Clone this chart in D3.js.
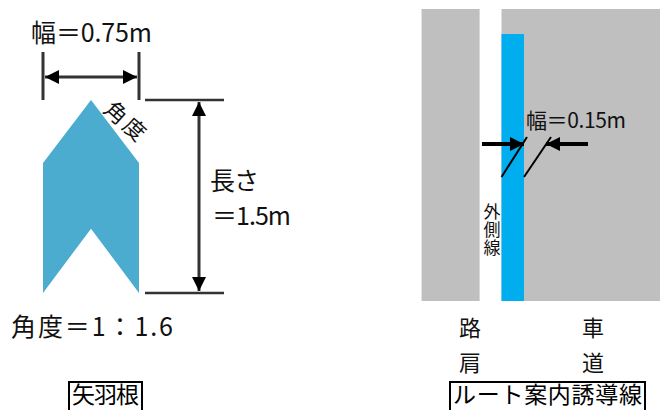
<!DOCTYPE html>
<html>
<head>
<meta charset="utf-8">
<script src="https://cdn.jsdelivr.net/npm/d3@7"></script>
<style>
body { margin: 0; background: #fff; }
text { font-family: "Liberation Sans Narrow", "Noto Sans CJK JP", sans-serif; fill: #111; }
</style>
</head>
<body>
<svg id="chart" width="660" height="410"></svg>
<script>
// 矢羽根 outline, metres from the apex (across, along)
var chevronAcross = [0.375, 0.75, 0.75, 0.375, 0, 0];
var chevronAlong = [0, 0.49, 1.5, 1.0, 1.5, 0.49];
var chevronWidth = 0.75;
var chevronLength = 1.5;

// ルート案内誘導線 bands, metres across the road from the left of the picture
var bandNames = ['shoulder', 'road', 'line'];
var bandStart = [0, 0.533, 0.533];
var bandEnd = [0.387, 1.593, 0.683];
var bandTop = [0, 0, 0.167];
var lineWidth = 0.15;

var labels = ['幅＝0.75m', '角度', '長さ', '＝1.5m', '角度＝1：1.6', '矢羽根', '幅＝0.15m', '路', '肩', '車', '道', 'ルート案内誘導線', '外側線'];

var svg = d3.select('#chart');

var defs = svg.append('defs');
defs.append('marker').attr('id', 'tip')
	.attr('viewBox', '0 0 10 10')
	.attr('refX', 10).attr('refY', 5)
	.attr('markerUnits', 'userSpaceOnUse')
	.attr('markerWidth', 21).attr('markerHeight', 14)
	.attr('orient', 'auto-start-reverse')
	.append('path').attr('d', 'M0,0L10,5L0,10Z').attr('fill', '#000');

// left figure
var x = d3.scaleLinear().domain([0, chevronWidth]).range([43, 139]);
var y = d3.scaleLinear().domain([0, chevronLength]).range([100, 293]);

svg.append('path')
	.datum(d3.range(chevronAcross.length))
	.attr('d', d3.line()
		.x(function(i){ return x(chevronAcross[i]); })
		.y(function(i){ return y(chevronAlong[i]); })
		.curve(d3.curveLinearClosed))
	.attr('fill', '#4bacd0');

function line(x1, y1, x2, y2, w, col){
	return svg.append('line')
		.attr('x1', x1).attr('y1', y1).attr('x2', x2).attr('y2', y2)
		.attr('stroke', col || '#333').attr('stroke-width', w || 2);
}

// width dimension
line(x(0), 52, x(0), 100, 3);
line(x(chevronWidth), 52, x(chevronWidth), 100, 3);
line(x(0) + 2, 77, x(chevronWidth) - 2, 77, 3)
	.attr('marker-start', 'url(#tip)').attr('marker-end', 'url(#tip)');

// length dimension
line(145, y(0), 224, y(0), 2.5);
line(145, y(chevronLength), 224, y(chevronLength), 2.5);
line(199, y(0) + 2, 199, y(chevronLength) - 2, 3)
	.attr('marker-start', 'url(#tip)').attr('marker-end', 'url(#tip)');

function label(t, px, py, size, len){
	var n = svg.append('text').attr('x', px).attr('y', py)
		.attr('font-size', size).text(t);
	if (len) n.attr('textLength', len).attr('lengthAdjust', 'spacing');
	return n;
}

label(labels[0], 31, 42, 25, 121);
label(labels[1], 0, 0, 22)
	.attr('x', null).attr('y', null)
	.attr('text-anchor', 'middle')
	.attr('letter-spacing', 3)
	.attr('transform', 'translate(125,122) rotate(42) translate(1,7)');
label(labels[2], 210, 190, 25, 49);
label(labels[3], 212, 225, 25, 79);
label(labels[4], 11, 336, 25, 162);

// right figure
var rx = d3.scaleLinear().domain([0, lineWidth]).range([501.5, 524]);
var rx0 = function(m){ return rx(m - bandStart[2]); };
var ry = d3.scaleLinear().domain([0, 1]).range([9, 159]);

svg.selectAll('.band')
	.data(bandNames)
	.enter()
	.append('rect')
	.attr('class', 'band')
	.attr('x', function(d, i){ return rx0(bandStart[i]); })
	.attr('width', function(d, i){ return rx0(bandEnd[i]) - rx0(bandStart[i]); })
	.attr('y', function(d, i){ return ry(bandTop[i]); })
	.attr('height', function(d, i){ return 301 - ry(bandTop[i]); })
	.attr('fill', function(d){ return d == 'line' ? '#00aeef' : '#bfbfbf'; });

line(rx(0), 177, 527, 137, 2, '#000');
line(rx(lineWidth), 177, 551, 137, 2, '#000');
line(482, 144, 524, 144, 4, '#000').attr('marker-end', 'url(#tip)');
line(588, 144, 546, 144, 4, '#000').attr('marker-end', 'url(#tip)');

label(labels[6], 526, 128, 21, 100);

// vertical label beside the blue line
label(labels[12], 492, 203, 17)
	.attr('writing-mode', 'vertical-rl')
	.attr('letter-spacing', 1);

label(labels[7], 470, 336, 22).attr('text-anchor', 'middle');
label(labels[8], 470, 371, 22).attr('text-anchor', 'middle');
label(labels[9], 593, 336, 22).attr('text-anchor', 'middle');
label(labels[10], 593, 371, 22).attr('text-anchor', 'middle');

// captions with their boxes, the bottom edge runs off the picture
function caption(t, x0, x1, size){
	svg.append('rect').attr('x', x0).attr('y', 382)
		.attr('width', x1 - x0).attr('height', 30)
		.attr('fill', 'none').attr('stroke', '#000').attr('stroke-width', 2);
	label(t, x0 + 3, 403, size, x1 - x0 - 6).style('fill', '#000');
}
caption(labels[5], 69, 142, 23);
caption(labels[11], 450, 645, 23);
</script>
</body>
</html>
